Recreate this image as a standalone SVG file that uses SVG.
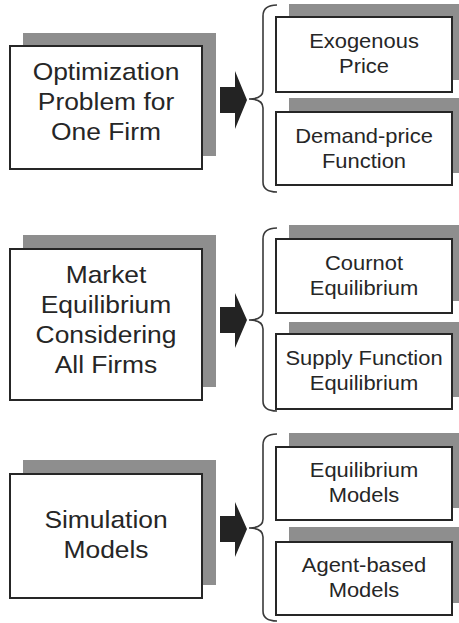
<svg xmlns="http://www.w3.org/2000/svg" width="459" height="623" viewBox="0 0 459 623">
  <defs>
    <style>
      .shadow { fill: #8e8e8e; }
      .box { fill: #ffffff; stroke: #262626; stroke-width: 2; }
      .big { font-family: "Liberation Sans", Arial, sans-serif; font-size: 24px; fill: #262626; text-anchor: middle; }
      .small { font-family: "Liberation Sans", Arial, sans-serif; font-size: 20.5px; fill: #262626; text-anchor: middle; }
      .arrow { fill: #232323; }
      .brace { fill: none; stroke: #3a3a3a; stroke-width: 1.6; }
    </style>
  </defs>
  <rect width="459" height="623" fill="#ffffff"/>

  <!-- left-column topic boxes -->
  <g id="optimization">
    <rect class="shadow" x="23" y="33" width="193" height="123"/>
    <rect class="box" x="10" y="46" width="192" height="123"/>
    <text class="big" transform="translate(106,80) scale(1.1,1)">Optimization</text>
    <text class="big" transform="translate(106,110) scale(1.1,1)">Problem for</text>
    <text class="big" transform="translate(106,140) scale(1.1,1)">One Firm</text>
  </g>
  <g id="market">
    <rect class="shadow" x="23" y="235" width="193" height="152"/>
    <rect class="box" x="10" y="249" width="192" height="151"/>
    <text class="big" transform="translate(106,283) scale(1.1,1)">Market</text>
    <text class="big" transform="translate(106,313) scale(1.1,1)">Equilibrium</text>
    <text class="big" transform="translate(106,343) scale(1.1,1)">Considering</text>
    <text class="big" transform="translate(106,373) scale(1.1,1)">All Firms</text>
  </g>
  <g id="simulation">
    <rect class="shadow" x="23" y="460" width="193" height="125"/>
    <rect class="box" x="10" y="474" width="192" height="124"/>
    <text class="big" transform="translate(106,528) scale(1.1,1)">Simulation</text>
    <text class="big" transform="translate(106,558) scale(1.1,1)">Models</text>
  </g>

  <!-- right-column sub-boxes -->
  <g id="exogenous">
    <rect class="shadow" x="289" y="4" width="175" height="76"/>
    <rect class="box" x="276" y="17" width="176" height="75"/>
    <text class="small" transform="translate(364,48) scale(1.07,1)">Exogenous</text>
    <text class="small" transform="translate(364,73) scale(1.07,1)">Price</text>
  </g>
  <g id="demand">
    <rect class="shadow" x="289" y="98" width="175" height="75"/>
    <rect class="box" x="276" y="112" width="176" height="73"/>
    <text class="small" transform="translate(364,143) scale(1.07,1)">Demand-price</text>
    <text class="small" transform="translate(364,168) scale(1.07,1)">Function</text>
  </g>
  <g id="cournot">
    <rect class="shadow" x="289" y="225" width="175" height="76"/>
    <rect class="box" x="276" y="239" width="176" height="74"/>
    <text class="small" transform="translate(364,270) scale(1.07,1)">Cournot</text>
    <text class="small" transform="translate(364,295) scale(1.07,1)">Equilibrium</text>
  </g>
  <g id="supply">
    <rect class="shadow" x="289" y="322" width="175" height="75"/>
    <rect class="box" x="276" y="334" width="176" height="75"/>
    <text class="small" transform="translate(364,365) scale(1.07,1)">Supply Function</text>
    <text class="small" transform="translate(364,390) scale(1.07,1)">Equilibrium</text>
  </g>
  <g id="equilibrium-models">
    <rect class="shadow" x="289" y="433" width="175" height="75"/>
    <rect class="box" x="276" y="447" width="176" height="73"/>
    <text class="small" transform="translate(364,477) scale(1.07,1)">Equilibrium</text>
    <text class="small" transform="translate(364,502) scale(1.07,1)">Models</text>
  </g>
  <g id="agent-based">
    <rect class="shadow" x="289" y="527" width="175" height="76"/>
    <rect class="box" x="276" y="542" width="176" height="73"/>
    <text class="small" transform="translate(364,572) scale(1.07,1)">Agent-based</text>
    <text class="small" transform="translate(364,597) scale(1.07,1)">Models</text>
  </g>

  <!-- block arrows and braces -->
  <g id="connectors">
    <path class="arrow" d="M220,87 H235 V71 L247,100 L235,129 V113 H220 Z"/>
    <path class="arrow" d="M220,307 H235 V293 L247,320 L235,348 V333 H220 Z"/>
    <path class="arrow" d="M220,516 H235 V502 L247,529 L235,557 V542 H220 Z"/>

    <path class="brace" d="M277,5 Q263,5 263,16 V90 Q263,99 249,99 Q263,99 263,108 V182 Q263,192 277,192"/>
    <path class="brace" d="M277,228 Q263,228 263,239 V311 Q263,320 249,320 Q263,320 263,329 V401 Q263,411 277,411"/>
    <path class="brace" d="M277,434 Q263,434 263,445 V519 Q263,528 249,528 Q263,528 263,537 V611 Q263,621 277,621"/>
  </g>
</svg>
